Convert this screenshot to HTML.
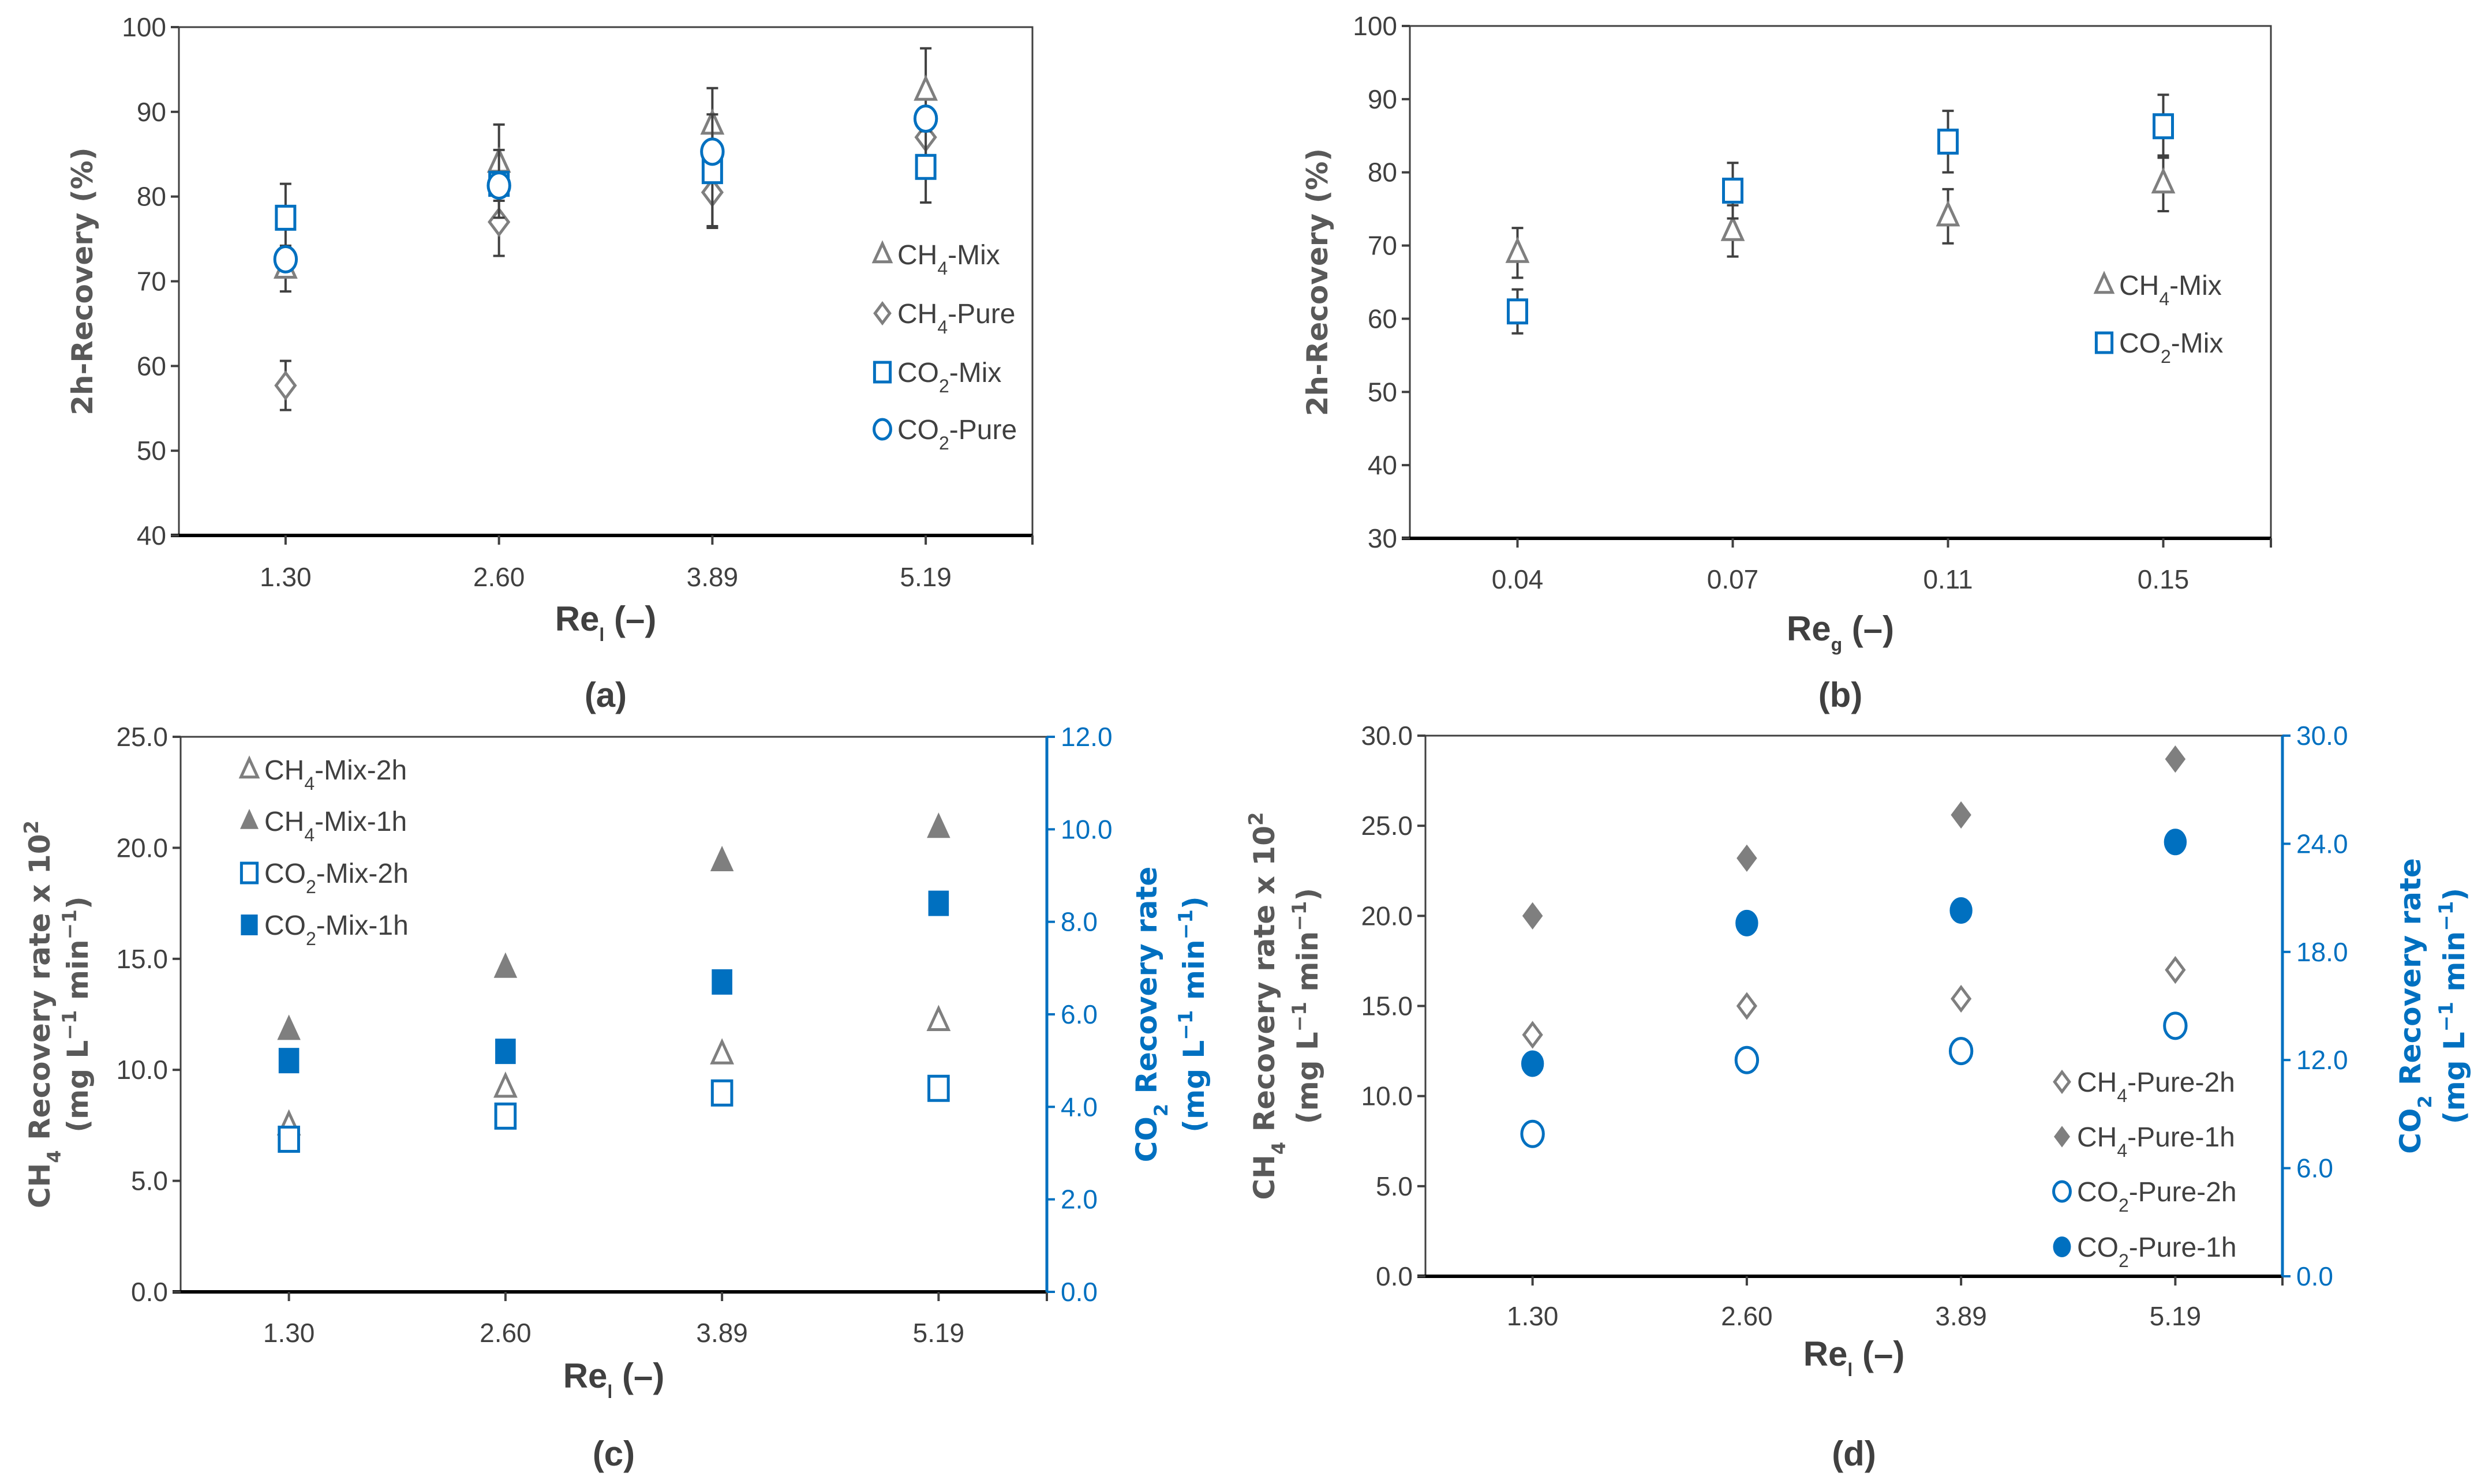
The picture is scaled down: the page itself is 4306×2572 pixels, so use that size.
<!DOCTYPE html>
<html><head><meta charset="utf-8"><style>
html,body{margin:0;padding:0;background:#fff}
svg{display:block}
.tk{font-family:"Liberation Sans Narrow","Liberation Sans",sans-serif;font-size:46px;fill:#404040}
.tkb{font-family:"Liberation Sans Narrow","Liberation Sans",sans-serif;font-size:46px;fill:#0070c0}
.ttl{font-family:"DejaVu Sans","Liberation Sans",sans-serif;font-weight:bold;font-size:50px;fill:#595959}
.ttlb{font-family:"DejaVu Sans","Liberation Sans",sans-serif;font-weight:bold;font-size:50px;fill:#0070c0}
.xt{font-family:"Liberation Sans Narrow","Liberation Sans",sans-serif;font-weight:bold;font-size:60px;fill:#404040}
.lg{font-family:"Liberation Sans Narrow","Liberation Sans",sans-serif;font-size:48px;fill:#404040}
</style></head><body>
<svg id="fig" width="4306" height="2572" viewBox="0 0 4306 2572" xmlns="http://www.w3.org/2000/svg"></svg>
<script>
// ---- data ----
const catsRel = ["1.30","2.60","3.89","5.19"];
const catsReg = ["0.04","0.07","0.11","0.15"];
const aCH4Mix = [71.5,84,88.5,92.5];
const aCH4MixErr = [2.7,4.5,4.3,5];
const aCH4Pure = [57.7,77,80.5,87];
const aCH4PureErr = [2.9,4,4,3];
const aCO2Mix = [77.5,81.5,83,83.5];
const aCO2MixErr = [4,4,6.7,4.2];
const aCO2Pure = [72.6,81.3,85.3,89.2];
const aTicks = [40,50,60,70,80,90,100];
const bCH4Mix = [69,72,74,78.5];
const bCH4MixErr = [3.4,3.5,3.7,3.8];
const bCO2Mix = [61,77.5,84.2,86.3];
const bCO2MixErr = [3,3.8,4.2,4.3];
const bTicks = [30,40,50,60,70,80,90,100];
const cCH4_2h = [7.5,9.2,10.7,12.2];
const cCH4_1h = [11.8,14.6,19.4,20.9];
const cCO2_2h = [3.3,3.8,4.3,4.4];
const cCO2_1h = [5.0,5.2,6.7,8.4];
const cTicksL = ["0.0","5.0","10.0","15.0","20.0","25.0"];
const cTicksR = ["0.0","2.0","4.0","6.0","8.0","10.0","12.0"];
const dCH4_2h = [13.4,15,15.4,17];
const dCH4_1h = [20,23.2,25.6,28.7];
const dCO2_2h = [7.9,12,12.5,13.9];
const dCO2_1h = [11.8,19.6,20.3,24.1];
const dTicksL = ["0.0","5.0","10.0","15.0","20.0","25.0","30.0"];
const dTicksR = ["0.0","6.0","12.0","18.0","24.0","30.0"];

const NS="http://www.w3.org/2000/svg";
const svg=document.getElementById('fig');
const GRAY="#7f7f7f", BLUE="#0070c0", DARK="#404040";
function mk(tag,attrs,parent){const e=document.createElementNS(NS,tag);for(const k in attrs)e.setAttribute(k,attrs[k]);(parent||svg).appendChild(e);return e;}
function txt(x,y,s,cls,anchor,parent){const t=mk('text',{x:x,y:y,'class':cls,'text-anchor':anchor||'middle'},parent);t.innerHTML=s;return t;}

function marker(g,type,x,y,color,filled,sz){
  const s=sz||20;let e;
  if(type==='tri'){e=mk('polygon',{points:`${x},${y-s*1.1} ${x-s*0.85},${y+s*0.75} ${x+s*0.85},${y+s*0.75}`},g);}
  else if(type==='dia'){e=mk('polygon',{points:`${x},${y-s} ${x+s*0.75},${y} ${x},${y+s} ${x-s*0.75},${y}`},g);}
  else if(type==='sq'){e=mk('rect',{x:x-s*0.8,y:y-s,width:s*1.6,height:s*2},g);}
  else {e=mk('ellipse',{cx:x,cy:y,rx:s*0.85,ry:s},g);}
  e.setAttribute('fill',filled?color:'#fff');e.setAttribute('stroke',color);e.setAttribute('stroke-width',filled?2:5);
  return e;
}

function panel(o){
  const g=mk('g',{});
  
  
  const X=i=>o.L+(o.R-o.L)*(i+0.5)/o.cats.length;
  const Y=v=>o.B-(o.B-o.T)*(v-o.ymin)/(o.ymax-o.ymin);
  const Y2=v=>o.B-(o.B-o.T)*(v-o.y2min)/(o.y2max-o.y2min);
  const frame=mk('rect',{x:o.L,y:o.T,width:o.R-o.L,height:o.B-o.T,fill:'none',stroke:DARK,'stroke-width':3},g);
  
  mk('line',{x1:o.L-14,y1:o.B,x2:o.R,y2:o.B,stroke:'#000','stroke-width':6},g);
  const yl=mk('g',{},g);
  o.ticksL.forEach(t=>{const v=parseFloat(t);mk('line',{x1:o.L-14,y1:Y(v),x2:o.L,y2:Y(v),stroke:DARK,'stroke-width':4},yl);txt(o.L-22,Y(v)+16,t,'tk','end',yl);});
  const xa=mk('g',{},g);
  mk('line',{x1:o.R,y1:o.B,x2:o.R,y2:o.B+16,stroke:DARK,'stroke-width':4},xa);
  o.cats.forEach((c,i)=>{mk('line',{x1:X(i),y1:o.B,x2:X(i),y2:o.B+16,stroke:DARK,'stroke-width':4},xa);txt(X(i),o.xtY,c,'tk','middle',xa);});
  const xt=txt((o.L+o.R)/2,o.xtitleY,o.xtitle,'xt','middle',g);
  const pl=txt((o.L+o.R)/2,o.plabY,o.plab,'xt','middle',g);
  if(o.ticksR){
    const yr=mk('g',{},g);
    mk('line',{x1:o.R,y1:o.T,x2:o.R,y2:o.B,stroke:BLUE,'stroke-width':5},yr);
    o.ticksR.forEach(t=>{const v=parseFloat(t);mk('line',{x1:o.R,y1:Y2(v),x2:o.R+14,y2:Y2(v),stroke:BLUE,'stroke-width':4},yr);txt(o.R+24,Y2(v)+16,t,'tkb','start',yr);});
  }
  o.ytitles.forEach(t=>{const e=mk('text',{x:0,y:0,'class':t.cls,'text-anchor':'middle',transform:`translate(${t.x},${(o.T+o.B)/2}) rotate(-90)`},g);e.innerHTML=t.s;});
  o.series.forEach(s=>{
    const sg=mk('g',{},g);
    
    
    const yf=s.right?Y2:Y;
    s.vals.forEach((v,i)=>{
      if(s.err){const e=s.err[i];const eg=mk('g',{stroke:DARK,'stroke-width':4},sg);
        mk('line',{x1:X(i),y1:yf(v+e),x2:X(i),y2:yf(v-e)},eg);
        mk('line',{x1:X(i)-10,y1:yf(v+e),x2:X(i)+10,y2:yf(v+e)},eg);
        mk('line',{x1:X(i)-10,y1:yf(v-e),x2:X(i)+10,y2:yf(v-e)},eg);}
    });
    s.vals.forEach((v,i)=>{const m=marker(sg,s.type,X(i),yf(v),s.color,s.filled,s.size);
      
      });
  });
  const lg=mk('g',{},g);
  o.legend.forEach((l,k)=>{const y=o.legY[k];const eg=mk('g',{},lg);
    
    marker(eg,l.type,o.legX,y,l.color,l.filled,17);
    txt(o.legX+26,y+17,l.s,'lg','start',eg);});
}
const sub=s=>`<tspan baseline-shift="sub" font-size="32">${s}</tspan>`;
const CH4="CH"+sub("4"), CO2="CO"+sub("2");

panel({name:'panel-a',L:310,R:1789,T:47,B:928,ymin:40,ymax:100,cats:catsRel,ticksL:aTicks.map(String),
 xtY:1016,xtitle:'Re'+sub('l')+' (–)',xtitleY:1093,plab:'(a)',plabY:1225,
 ytitles:[{x:160,s:'2h-Recovery (%)',cls:'ttl',name:'y-axis-title'}],
 series:[
  {name:'ch4-mix',vals:aCH4Mix,err:aCH4MixErr,type:'tri',color:GRAY,filled:false,size:20},
  {name:'ch4-pure',vals:aCH4Pure,err:aCH4PureErr,type:'dia',color:GRAY,filled:false,size:22},
  {name:'co2-mix',vals:aCO2Mix,err:aCO2MixErr,type:'sq',color:BLUE,filled:false,size:20},
  {name:'co2-pure',vals:aCO2Pure,type:'circ',color:BLUE,filled:false,size:22}],
 legX:1529,legY:[441,543,645,744],
 legend:[{type:'tri',color:GRAY,s:CH4+'-Mix'},{type:'dia',color:GRAY,s:CH4+'-Pure'},{type:'sq',color:BLUE,s:CO2+'-Mix'},{type:'circ',color:BLUE,s:CO2+'-Pure'}]});

panel({name:'panel-b',L:2443,R:3935,T:45,B:933,ymin:30,ymax:100,cats:catsReg,ticksL:bTicks.map(String),
 xtY:1020,xtitle:'Re'+sub('g')+' (–)',xtitleY:1110,plab:'(b)',plabY:1225,
 ytitles:[{x:2300,s:'2h-Recovery (%)',cls:'ttl',name:'y-axis-title'}],
 series:[
  {name:'ch4-mix',vals:bCH4Mix,err:bCH4MixErr,type:'tri',color:GRAY,filled:false,size:20},
  {name:'co2-mix',vals:bCO2Mix,err:bCO2MixErr,type:'sq',color:BLUE,filled:false,size:20}],
 legX:3646,legY:[494,594],
 legend:[{type:'tri',color:GRAY,s:CH4+'-Mix'},{type:'sq',color:BLUE,s:CO2+'-Mix'}]});

panel({name:'panel-c',L:313,R:1814,T:1277,B:2239,ymin:0,ymax:25,y2min:0,y2max:12,cats:catsRel,ticksL:cTicksL,ticksR:cTicksR,
 xtY:2326,xtitle:'Re'+sub('l')+' (–)',xtitleY:2405,plab:'(c)',plabY:2540,
 ytitles:[{x:86,s:CH4+' Recovery rate x 10<tspan baseline-shift="super" font-size="34">2</tspan>',cls:'ttl',name:'y-axis-left-title'},
          {x:152,s:'(mg L<tspan baseline-shift="super" font-size="34">−1</tspan> min<tspan baseline-shift="super" font-size="34">−1</tspan>)',cls:'ttl',name:'y-axis-left-units'},
          {x:2004,s:CO2+' Recovery rate',cls:'ttlb',name:'y-axis-right-title'},
          {x:2086,s:'(mg L<tspan baseline-shift="super" font-size="34">−1</tspan> min<tspan baseline-shift="super" font-size="34">−1</tspan>)',cls:'ttlb',name:'y-axis-right-units'}],
 series:[
  {name:'ch4-mix-2h',vals:cCH4_2h,type:'tri',color:GRAY,filled:false,size:20},
  {name:'ch4-mix-1h',vals:cCH4_1h,type:'tri',color:GRAY,filled:true,size:22},
  {name:'co2-mix-2h',vals:cCO2_2h,type:'sq',color:BLUE,filled:false,size:21,right:true},
  {name:'co2-mix-1h',vals:cCO2_1h,type:'sq',color:BLUE,filled:true,size:21,right:true}],
 legX:432,legY:[1334,1423,1513,1603],
 legend:[{type:'tri',color:GRAY,s:CH4+'-Mix-2h'},{type:'tri',color:GRAY,filled:true,s:CH4+'-Mix-1h'},{type:'sq',color:BLUE,s:CO2+'-Mix-2h'},{type:'sq',color:BLUE,filled:true,s:CO2+'-Mix-1h'}]});

panel({name:'panel-d',L:2470,R:3955,T:1275,B:2212,ymin:0,ymax:30,y2min:0,y2max:30,cats:catsRel,ticksL:dTicksL,ticksR:dTicksR,
 xtY:2297,xtitle:'Re'+sub('l')+' (–)',xtitleY:2367,plab:'(d)',plabY:2540,
 ytitles:[{x:2208,s:CH4+' Recovery rate x 10<tspan baseline-shift="super" font-size="34">2</tspan>',cls:'ttl',name:'y-axis-left-title'},
          {x:2283,s:'(mg L<tspan baseline-shift="super" font-size="34">−1</tspan> min<tspan baseline-shift="super" font-size="34">−1</tspan>)',cls:'ttl',name:'y-axis-left-units'},
          {x:4194,s:CO2+' Recovery rate',cls:'ttlb',name:'y-axis-right-title'},
          {x:4270,s:'(mg L<tspan baseline-shift="super" font-size="34">−1</tspan> min<tspan baseline-shift="super" font-size="34">−1</tspan>)',cls:'ttlb',name:'y-axis-right-units'}],
 series:[
  {name:'ch4-pure-2h',vals:dCH4_2h,type:'dia',color:GRAY,filled:false,size:20},
  {name:'ch4-pure-1h',vals:dCH4_1h,type:'dia',color:GRAY,filled:true,size:22},
  {name:'co2-pure-2h',vals:dCO2_2h,type:'circ',color:BLUE,filled:false,size:22,right:true},
  {name:'co2-pure-1h',vals:dCO2_1h,type:'circ',color:BLUE,filled:true,size:22,right:true}],
 legX:3573,legY:[1875,1970,2065,2161],
 legend:[{type:'dia',color:GRAY,s:CH4+'-Pure-2h'},{type:'dia',color:GRAY,filled:true,s:CH4+'-Pure-1h'},{type:'circ',color:BLUE,s:CO2+'-Pure-2h'},{type:'circ',color:BLUE,filled:true,s:CO2+'-Pure-1h'}]});
</script>
</body></html>
